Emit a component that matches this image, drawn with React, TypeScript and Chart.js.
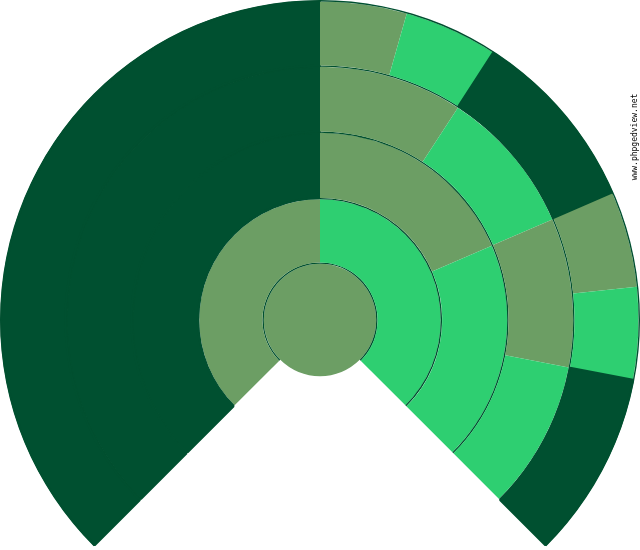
import React, { useEffect, useRef } from "react";
import { Chart, registerables } from "chart.js";

Chart.register(...registerables);

// Fan chart generations (values = angular share, 270 units per ring)
const gen1Labels = ["Father line", "Mother line"];
const gen1Values = [135, 135];
const gen2Labels = ["Paternal", "Maternal grandfather", "Maternal grandmother"];
const gen2Values = [135, 66.6, 68.4];
const gen3Labels = ["Paternal", "GGF 1", "GGM 1", "GGF 2", "GGM 2"];
const gen3Values = [135, 33, 33.6, 34.2, 34.2];
const gen4Labels = ["Paternal", "GGGF 1", "GGGM 1", "Unknown 1", "GGGF 2", "GGGM 2", "Unknown 2"];
const gen4Values = [135, 15.8, 17.1, 33.7, 17.4, 16.8, 34.2];
const rootLabels = ["Root"];
const rootValues = [1];

const DARK = "#005030";
const OLIVE = "#6c9e64";
const BRIGHT = "#2ecf71";

const gen1Colors = [OLIVE, BRIGHT];
const gen2Colors = [DARK, OLIVE, BRIGHT];
const gen3Colors = [DARK, OLIVE, BRIGHT, OLIVE, BRIGHT];
const gen4Colors = [DARK, OLIVE, BRIGHT, DARK, OLIVE, BRIGHT, DARK];

export default function App() {
  const canvasRef = useRef<HTMLCanvasElement | null>(null);

  useEffect(() => {
    if (!canvasRef.current) return;
    const ring = (data: number[], colors: string[], weight: number) => ({
      data,
      backgroundColor: colors,
      borderColor: colors,
      borderWidth: colors.map((c) => (c === DARK ? 2 : 0)),
      weight,
      rotation: -135,
      circumference: 270,
    });
    const line = (weight: number) => ({
      data: [270],
      backgroundColor: [DARK],
      borderColor: [DARK],
      borderWidth: 0,
      weight,
      rotation: -135,
      circumference: 270,
    });
    const chart = new Chart(canvasRef.current, {
      type: "doughnut",
      data: {
        labels: gen4Labels,
        datasets: [
          line(1.4),
          ring(gen4Values, gen4Colors, 64),
          line(1.4),
          ring(gen3Values, gen3Colors, 64.6),
          line(1.4),
          ring(gen2Values, gen2Colors, 65.1),
          line(1.4),
          ring(gen1Values, gen1Colors, 63.1),
          line(1.4),
          {
            data: rootValues,
            backgroundColor: [OLIVE],
            borderColor: [OLIVE],
            borderWidth: 0,
            weight: 56.2,
            rotation: -135,
            circumference: 360,
          },
        ] as any,
      },
      options: {
        responsive: false,
        animation: false,
        cutout: 0,
        hoverOffset: 0,
        offset: 0,
        layout: { padding: 0 },
        plugins: {
          legend: { display: false },
          tooltip: { enabled: false },
        },
        events: [],
      } as any,
    });
    return () => chart.destroy();
  }, []);

  void gen1Labels; void gen2Labels; void gen3Labels; void rootLabels;

  return (
    <div
      style={{
        position: "absolute",
        left: 0,
        top: 0,
        width: 640,
        height: 550,
        overflow: "hidden",
        background: "#fff",
      }}
    >
      <canvas
        ref={canvasRef}
        width={640}
        height={640}
        style={{ position: "absolute", left: 0, top: 0, width: 640, height: 640 }}
      />
      <div
        style={{
          position: "absolute",
          left: 590,
          top: 133,
          width: 90,
          height: 8,
          lineHeight: "8px",
          fontSize: 8,
          fontFamily: "'DejaVu Sans Mono', monospace",
          color: "#000",
          textAlign: "center",
          whiteSpace: "nowrap",
          transform: "rotate(-90deg)",
          transformOrigin: "45px 4px",
        }}
      >
        www.phpgedview.net
      </div>
    </div>
  );
}
